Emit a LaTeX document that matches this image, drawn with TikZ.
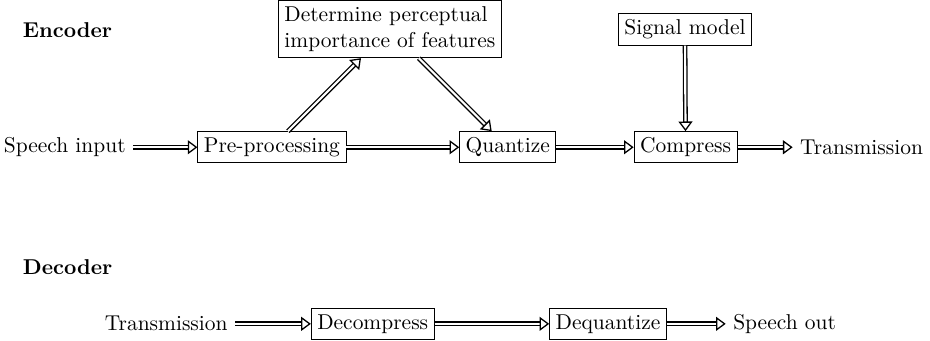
\documentclass[tikz,border=0pt]{standalone}
\usepackage{tikz}
\usetikzlibrary{arrows.meta}

\begin{document}
\begin{tikzpicture}[
  block/.style={draw, rectangle, inner sep=2.8pt},
  flow/.style={semithick, double, double distance=1pt, -{Triangle[open, length=4.5pt, width=6.5pt]}},
]
  \useasboundingbox (0,0) rectangle (15.22,5.58);

  % encoder
  \node[anchor=west] (enc) at (0.25,5.09) {\textbf{Encoder}};
  \node[block, align=left] (det) at (6.38,5.10) {Determine perceptual\\importance of features};
  \node[block] (sig) at (11.21,5.10) {Signal model};

  \node (in) at (1.06,3.17) {Speech input};
  \node[block] (pre) at (4.45,3.17) {Pre-processing};
  \node[block] (quant) at (8.31,3.17) {Quantize};
  \node[block] (comp) at (11.22,3.17) {Compress};
  \node (tx) at (14.10,3.17) {Transmission};

  \draw[flow] (in) -- (pre);
  \draw[flow] (pre) -- (det);
  \draw[flow] (det) -- (quant);
  \draw[flow] (pre) -- (quant);
  \draw[flow] (quant) -- (comp);
  \draw[flow] (sig) -- (comp);
  \draw[flow] (comp) -- (tx);

  % decoder
  \node[anchor=west] (dec) at (0.25,1.21) {\textbf{Decoder}};
  \node (rx) at (2.72,0.28) {Transmission};
  \node[block] (decomp) at (6.10,0.28) {Decompress};
  \node[block] (dequant) at (9.95,0.28) {Dequantize};
  \node (out) at (12.84,0.28) {Speech out};

  \draw[flow] (rx) -- (decomp);
  \draw[flow] (decomp) -- (dequant);
  \draw[flow] (dequant) -- (out);
\end{tikzpicture}
\end{document}
